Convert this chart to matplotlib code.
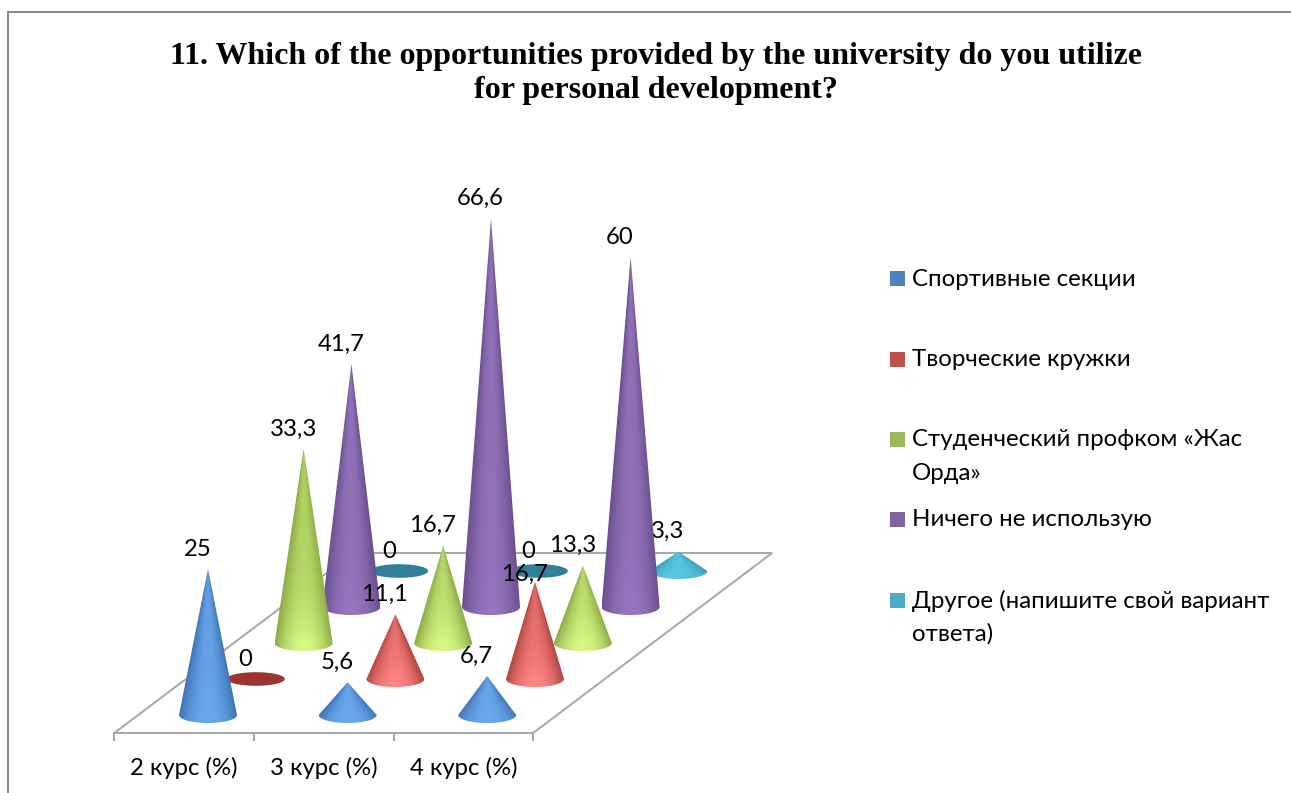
import numpy as np
import matplotlib
matplotlib.use('Agg')
import matplotlib.pyplot as plt
from matplotlib.patches import Polygon, Rectangle

plt.rcParams['font.family'] = ['Lato', 'Open Sans', 'DejaVu Sans']

title = '11. Which of the opportunities provided by the university do you utilize\nfor personal development?'
courses = ['2 курс (%)', '3 курс (%)', '4 курс (%)']
series_names = [
    ['Спортивные секции'],
    ['Творческие кружки'],
    ['Студенческий профком «Жас', 'Орда»'],
    ['Ничего не использую'],
    ['Другое (напишите свой вариант', 'ответа)'],
]
sport = [25, 5.6, 6.7]
creative = [0, 11.1, 16.7]
union = [33.3, 16.7, 13.3]
nothing = [41.7, 66.6, 60]
other = [0, 0, 3.3]
series = [sport, creative, union, nothing, other]
labels = [
    ['25', '5,6', '6,7'],
    ['0', '11,1', '16,7'],
    ['33,3', '16,7', '13,3'],
    ['41,7', '66,6', '60'],
    ['0', '0', '3,3'],
]

legend_colors = ['#4f81bd', '#c0504d', '#9bbb59', '#8064a2', '#4bacc6']
edge_colors = ['#3f74b4', '#b04542', '#8cab46', '#6a4f90', '#389ab6']
mid_colors = ['#629fe4', '#dc6663', '#aed062', '#9071b8', '#50bcd8']
glow_colors = ['#6aa8ec', '#ff8484', '#d8f884', '#9575bd', '#58c6e2']
flat_colors = ['#3a6aa6', '#9e3432', '#86a640', '#604685', '#2f8098']

fig, ax = plt.subplots(figsize=(12.91, 7.93), dpi=100)
ax.set_position([0, 0, 1, 1])
ax.axis('off')

# floor of the fake 3d chart, all in picture pixels
ORIGIN = (208, 715)
STEP_COURSE = 139.6
STEP_SERIES = (47.8, -36)
PX_PER_UNIT = 5.83
RX, RY = 29, 8


def project(i, j, v=0):
    x = ORIGIN[0] + i * STEP_COURSE + j * STEP_SERIES[0]
    y = ORIGIN[1] + j * STEP_SERIES[1] - v * PX_PER_UNIT
    return x, y


def rgb(c):
    return np.array(matplotlib.colors.to_rgb(c))[None, None, :]


def draw_cone(i, j, v, z):
    cx, cy = project(i, j)
    if v == 0:
        th = np.linspace(0, 2 * np.pi, 80)
        ax.add_patch(Polygon(np.c_[cx + RX * np.cos(th), cy + (RY - 1.2) * np.sin(th)],
                             closed=True, fc=flat_colors[j], ec='none', zorder=z))
        return
    tip_x, tip_y = project(i, j, v)
    th = np.linspace(0, np.pi, 60)
    pts = np.vstack([[tip_x, tip_y], np.c_[cx + RX * np.cos(th), cy + RY * np.sin(th)]])
    # sheen runs from the apex down the middle, brighter close to the base
    xs = np.linspace(cx - RX, cx + RX, 120)
    ys = np.linspace(tip_y, cy + RY, 300)
    gx, gy = np.meshgrid(xs, ys)
    frac = np.clip((gy - tip_y) / (cy - tip_y), 0.001, None)
    u = np.clip(np.abs(gx - cx) / (RX * frac), 0, 1)
    glow = np.clip(np.exp(-(cy - gy) / 45), 0, 1)[:, :, None]
    centre = rgb(mid_colors[j]) * (1 - glow) + rgb(glow_colors[j]) * glow
    sheen = (1 - u ** 2)[:, :, None]
    img = rgb(edge_colors[j]) * (1 - sheen) + centre * sheen
    im = ax.imshow(img, extent=(cx - RX, cx + RX, cy + RY, tip_y), origin='upper',
                   zorder=z, aspect='auto', interpolation='bilinear')
    clip = Polygon(pts, closed=True, transform=ax.transData, fc='none', ec='none')
    ax.add_patch(clip)
    im.set_clip_path(clip)


# outer frame
ax.plot([8, 8], [793, 12], color='#868686', lw=1.4, zorder=1)
ax.plot([8, 1291], [12, 12], color='#868686', lw=1.4, zorder=1)

# floor
corners = [project(-0.5, -0.5), project(2.5, -0.5), project(2.5, 4.5), project(-0.5, 4.5)]
ax.add_patch(Polygon(corners, closed=True, fc='white', ec='#a6a6a6', lw=1.4, zorder=2))
for i in range(len(courses) + 1):
    x, y = project(i - 0.5, -0.5)
    ax.plot([x, x], [y, y + 7], color='#a6a6a6', lw=1.4, zorder=2)
for i, name in enumerate(courses):
    x, y = project(i, -0.5)
    ax.text(x, y + 35, name, ha='center', va='center', fontsize=17.2, color='black', zorder=30)

# back rows first, front rows cover them
for j in range(len(series) - 1, -1, -1):
    z = 10 + (len(series) - j) * 2
    for i, v in enumerate(series[j]):
        draw_cone(i, j, v, z)
        x, y = project(i, j, v)
        # the red 16,7 label sits lower in the original
        dy = -7 if (i, j) == (2, 1) else -20
        ax.text(x - 10.5, y + dy, labels[j][i], ha='center', va='center',
                fontsize=17.2, color='black', zorder=z + 1)

# legend
legend_x = 890
legend_rows = [278, 359, 439, 519, 600]
for names, color, y in zip(series_names, legend_colors, legend_rows):
    ax.add_patch(Rectangle((legend_x, y - 7.5), 15, 15, fc=color, ec='none', zorder=5))
    for k, line in enumerate(names):
        ax.text(legend_x + 22, y + 1 + k * 33, line, ha='left', va='center',
                fontsize=17.3, color='black', zorder=5)

ax.text(656, 73.5, title, ha='center', va='center', family='Liberation Serif',
        fontweight='bold', fontsize=23, color='black', linespacing=1.27)

ax.set_xlim(0, 1291)
ax.set_ylim(793, 0)

fig.savefig('out.png', dpi=100, facecolor='white')
